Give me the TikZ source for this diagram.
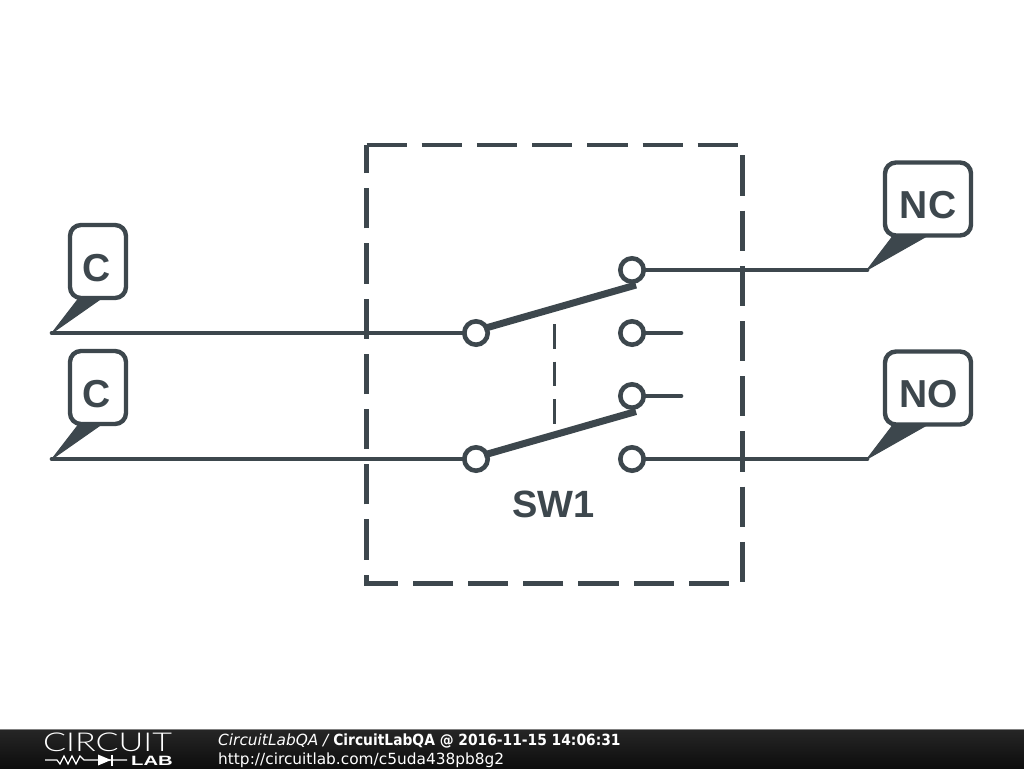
\documentclass[tikz,border=0pt]{standalone}
\usepackage{fontspec}
\setmainfont{Liberation Sans}
\newfontfamily\barfont[BoldFeatures={FakeStretch=0.9}]{DejaVu Sans}
\newfontfamily\logofont[FakeStretch=1.31]{Lato Light}
\newfontfamily\labfont[FakeStretch=1.5]{Liberation Sans Bold}
\definecolor{ink}{HTML}{3D474D}
\definecolor{bartop}{HTML}{262626}
\definecolor{barbottom}{HTML}{0D0D0D}
\newcommand{\flagtext}[1]{\raisebox{-19.7pt}[0pt][0pt]{#1}}
\tikzset{
  wire/.style={draw=ink,line width=4.7pt,line cap=round},
  lever/.style={draw=ink,line width=7pt},
  terminal/.style={circle,draw=ink,fill=white,line width=4.6pt,minimum size=23.4pt,inner sep=0pt,outer sep=0pt},
  flag/.style={draw=ink,fill=white,line width=4.4pt,rounded corners=11pt,inner sep=0pt,
     font=\fontsize{39}{39}\selectfont\bfseries,text=ink},
  wedge/.style={fill=ink,draw=ink,line width=1pt,line join=round},
  boxdash/.style={draw=ink,line width=4.4pt,dash pattern=on 40.2pt off 15pt},
  linkdash/.style={draw=ink,line width=2.4pt,dash pattern=on 24.5pt off 13pt},
  bartext/.style={anchor=base west,text=white,inner sep=0pt,font=\barfont\fontsize{15.37}{15.37}\selectfont},
}
\begin{document}
\begin{tikzpicture}[x=1pt,y=-1pt]
\useasboundingbox (0,0) rectangle (1024,768);
\fill[white] (0,0) rectangle (1024,768);
% footer
\shade[top color=bartop,bottom color=barbottom] (0,729) rectangle (1024,768);
\fill[gray] (0,728.5) rectangle (1024,729.5);
\node[anchor=base west,text=white,inner sep=0pt,font=\logofont\fontsize{26}{26}\selectfont] (logotext) at (43,751) {CIRCUIT};
\node[anchor=base east,text=white,inner sep=0pt,font=\labfont\fontsize{13.5}{13.5}\selectfont] (logolab) at (173,765) {LAB};
\coordinate (logostart) at (45,760);
\coordinate (logoend) at (127,760);
\draw[white,line width=1.2pt] (logostart) -- (57,760) -- (60,764) -- (64,756) -- (68,764) -- (72,756) -- (76,764) -- (80,756) -- (84,760) -- (logoend);
\fill[white] (98,754.5) -- (111,760) -- (98,765.5) -- cycle;
\draw[white,line width=1.6pt] (112,754.5) -- (112,765.5);
\node[bartext] (caption) at (218,745) {\itshape CircuitLabQA / \bfseries\upshape CircuitLabQA @ 2016-11-15 14:06:31};
\node[bartext] (url) at (218,764) {http://circuitlab.com/c5uda438pb8g2};
% switch enclosure
\draw[boxdash] (366.5,145) -- (742.5,145) -- (742.5,583.5) -- (366.5,583.5) -- cycle;
% terminals
\node[terminal] (a1) at (476,333) {};
\node[terminal] (a2) at (476,459) {};
\node[terminal] (nc1) at (632,270) {};
\node[terminal] (no1) at (632,333) {};
\node[terminal] (nc2) at (632,396) {};
\node[terminal] (no2) at (632,459) {};
% flags
\coordinate (c1tip) at (52,333);
\coordinate (c2tip) at (52,459);
\coordinate (nctip) at (867,270);
\coordinate (notip) at (867,459);
\coordinate (stub1) at (681,333);
\coordinate (stub2) at (681,396);
\fill[wedge] (c1tip) -- (79,298) -- (102,298) -- cycle;
\fill[wedge] (c2tip) -- (79,424) -- (102,424) -- cycle;
\fill[wedge] (nctip) -- (893,236) -- (927,236) -- cycle;
\fill[wedge] (notip) -- (893,425) -- (927,425) -- cycle;
\node[flag,minimum width=56pt,minimum height=73pt] (fc1) at (98,261.5) {\flagtext{\kern-2pt C}};
\node[flag,minimum width=56pt,minimum height=73pt] (fc2) at (98,387.5) {\flagtext{\kern-2pt C}};
\node[flag,minimum width=86pt,minimum height=73pt] (fnc) at (928,199) {\flagtext{NC}};
\node[flag,minimum width=86pt,minimum height=73pt] (fno) at (928,388) {\flagtext{\kern1pt NO}};
% wires
\draw[wire] (c1tip) -- (a1.west);
\draw[wire] (c2tip) -- (a2.west);
\draw[wire] (nc1.east) -- (nctip);
\draw[wire] (no2.east) -- (notip);
\draw[wire] (no1.east) -- (stub1);
\draw[wire] (nc2.east) -- (stub2);
% levers
\coordinate (l1a) at (484,328.5);
\coordinate (l1b) at (636,285);
\coordinate (l2a) at (484,455);
\coordinate (l2b) at (636,411.5);
\draw[lever] (l1a) -- (l1b);
\draw[lever] (l2a) -- (l2b);
\coordinate (linktop) at (554.5,324);
\coordinate (linkbot) at (554.5,423.5);
\draw[linkdash] (linktop) -- (linkbot);
\node[anchor=base,inner sep=0pt,text=ink,font=\fontsize{38}{38}\selectfont\bfseries] (sw) at (553.5,517) {SW1};
\end{tikzpicture}
\end{document}
